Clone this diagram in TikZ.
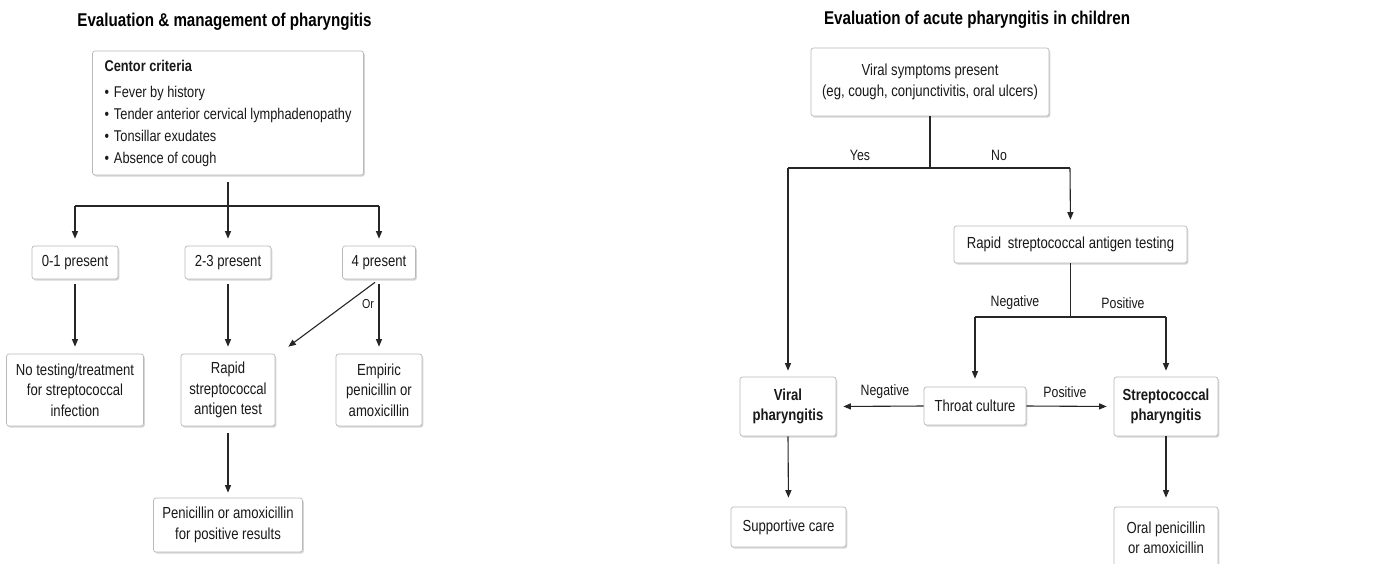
\documentclass[tikz,border=0pt]{standalone}
\usepackage{fontspec}
\setmainfont{Liberation Sans}[FakeStretch=0.82]
\usetikzlibrary{arrows.meta,shadows,calc}
\begin{document}
\begin{tikzpicture}[x=1pt,y=-1pt,
  box/.style={draw=gray!55, line width=0.7pt, rounded corners=2.5pt, fill=white, align=center, inner sep=0pt,
    font=\fontsize{16}{20.5}\selectfont, text=black!90,
    drop shadow={shadow xshift=1.3pt, shadow yshift=-1.6pt, opacity=0.35, fill=black!45}},
  conn/.style={line width=1.1pt, draw=black!85},
  arr/.style={conn, -{Triangle[length=7.5pt,width=6pt]}},
  lbl/.style={font=\fontsize{15}{18}\selectfont, text=black!90, inner sep=0pt},
  ttl/.style={font=\fontsize{18.5}{22}\selectfont\bfseries, text=black, inner sep=0pt}]
\useasboundingbox (0,0) rectangle (1383,563);
\fill[white] (0,0) rectangle (1383,563);

% ---------------- left diagram ----------------
\node[ttl] (t1) at (224.5,22) {Evaluation \& management of pharyngitis};
\node[box, minimum width=271pt, minimum height=124pt, align=left,
      font=\fontsize{15.6}{22}\selectfont] (centor) at (228,113)
  {{\bfseries Centor criteria}\\[4pt]
   \textbullet\hspace{5pt}Fever by history\\
   \textbullet\hspace{5pt}Tender anterior cervical lymphadenopathy\\
   \textbullet\hspace{5pt}Tonsillar exudates\\
   \textbullet\hspace{5pt}Absence of cough};
\node[box, minimum width=86pt, minimum height=33pt] (n01) at (75,262.5) {0-1 present};
\node[box, minimum width=86pt, minimum height=33pt] (n23) at (228,262.5) {2-3 present};
\node[box, minimum width=73pt, minimum height=33pt] (n4) at (379,262.5) {4 present};
\node[box, minimum width=137pt, minimum height=72pt] (notest) at (75,390) {No testing/treatment\\for streptococcal\\infection};
\node[box, minimum width=94pt, minimum height=72pt] (rapid) at (228,390) {Rapid\\streptococcal\\antigen test};
\node[box, minimum width=86pt, minimum height=72pt] (empiric) at (379,390) {Empiric\\penicillin or\\amoxicillin};
\node[box, minimum width=149pt, minimum height=54pt] (penic) at (228,525) {Penicillin or amoxicillin\\for positive results};

\coordinate (lb0) at (75,206);
\coordinate (lb1) at (228,206);
\coordinate (lb2) at (379,206);
\coordinate (orend) at ($(rapid.north east)+(13,-7)$);
\draw[conn, shorten <=7pt] (centor.south) -- (lb1);
\draw[conn] (lb0) -- (lb2);
\draw[arr, shorten >=7pt] (lb0) -- (n01.north);
\draw[arr, shorten >=7pt] (lb1) -- (n23.north);
\draw[arr, shorten >=7pt] (lb2) -- (n4.north);
\draw[arr, shorten <=5pt, shorten >=7pt] (n01.south) -- (notest.north);
\draw[arr, shorten <=5pt, shorten >=7pt] (n23.south) -- (rapid.north);
\draw[arr, shorten <=5pt, shorten >=7pt] (n4.south) -- (empiric.north);
\draw[arr, shorten <=5pt] (n4.south) -- (orend);
\node[lbl, font=\fontsize{13}{15}\selectfont] (orlbl) at (368,304) {Or};
\draw[arr, shorten <=7pt, shorten >=5pt] (rapid.south) -- (penic.north);

% ---------------- right diagram ----------------
\node[ttl] (t2) at (977,20) {Evaluation of acute pharyngitis in children};
\node[box, minimum width=238pt, minimum height=68pt] (viral) at (930,82) {Viral symptoms present\\(eg, cough, conjunctivitis, oral ulcers)};
\node[box, minimum width=233pt, minimum height=37pt] (rapidR) at (1070.5,244.5) {Rapid\hspace{3pt} streptococcal antigen testing};
\node[box, minimum width=102pt, minimum height=38pt] (throat) at (975,406) {Throat culture};
\node[box, minimum width=96pt, minimum height=59pt, font=\fontsize{16}{20.5}\selectfont\bfseries] (viralph) at (788,406.5) {Viral\\pharyngitis};
\node[box, minimum width=104pt, minimum height=59pt, font=\fontsize{16}{20.5}\selectfont\bfseries] (strep) at (1166,406.5) {Streptococcal\\pharyngitis};
\node[box, minimum width=115pt, minimum height=40pt] (support) at (788.5,527) {Supportive care};
\node[box, minimum width=104pt, minimum height=62pt] (oral) at (1166,538) {Oral penicillin\\or amoxicillin};

\coordinate (ra) at (930,168);
\coordinate (ry) at (788,168);
\coordinate (rn) at (1070,168);
\coordinate (rb) at (1070.5,317);
\coordinate (rneg) at (975,317);
\coordinate (rpos) at (1166,317);
\draw[conn] (viral.south) -- (ra);
\draw[conn] (ry) -- (rn);
\node[lbl] (yes) at (860,155) {Yes};
\node[lbl] (no) at (999,155) {No};
\draw[arr, shorten >=6pt] (rn) -- (rapidR.north);
\draw[arr, shorten >=6pt] (ry) -- (viralph.north);
\draw[conn] (rapidR.south) -- (rb);
\draw[conn] (rneg) -- (rpos);
\node[lbl] (neg1) at (1015,303) {Negative};
\node[lbl] (pos1) at (1123,303) {Positive};
\draw[arr, shorten >=8pt] (rneg) -- (throat.north);
\draw[arr, shorten >=6pt] (rpos) -- (strep.north);
\draw[arr, shorten >=7pt] (throat.west) -- (viralph.east);
\draw[arr, shorten >=7pt] (throat.east) -- (strep.west);
\node[lbl] (neg2) at (885,392) {Negative};
\node[lbl] (pos2) at (1065,392) {Positive};
\draw[arr, shorten >=9pt] (viralph.south) -- (support.north);
\draw[arr, shorten >=9pt] (strep.south) -- (oral.north);
\end{tikzpicture}
\end{document}
